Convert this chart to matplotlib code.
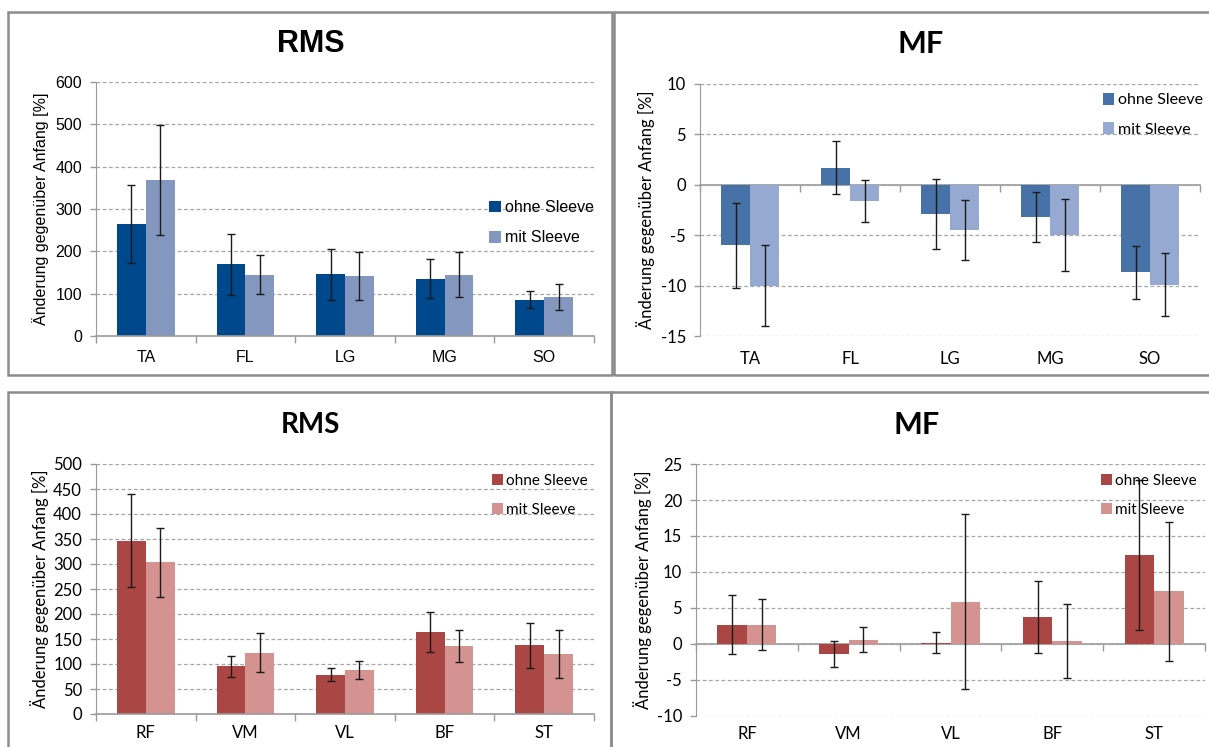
import matplotlib
matplotlib.use("Agg")
import matplotlib.pyplot as plt
from matplotlib.patches import Rectangle
import numpy as np

W, H = 1209, 747

# ---- data ----
legs = ["TA", "FL", "LG", "MG", "SO"]
thighs = ["RF", "VM", "VL", "BF", "ST"]

rms_leg_ohne = [264, 169, 146, 135, 86]
rms_leg_ohne_sd = [92, 73, 60, 46, 20]
rms_leg_mit = [369, 145, 141, 145, 92]
rms_leg_mit_sd = [130, 46, 57, 54, 31]

mf_leg_ohne = [-6.0, 1.7, -2.9, -3.2, -8.7]
mf_leg_ohne_sd = [4.2, 2.6, 3.5, 2.5, 2.6]
mf_leg_mit = [-10.0, -1.6, -4.5, -5.0, -9.9]
mf_leg_mit_sd = [4.0, 2.1, 3.0, 3.6, 3.1]

rms_thigh_ohne = [347, 96, 79, 165, 138]
rms_thigh_ohne_sd = [93, 21, 13, 40, 45]
rms_thigh_mit = [304, 123, 89, 136, 121]
rms_thigh_mit_sd = [69, 39, 18, 32, 48]

mf_thigh_ohne = [2.7, -1.4, 0.2, 3.7, 12.4]
mf_thigh_ohne_sd = [4.1, 1.8, 1.5, 5.0, 10.4]
mf_thigh_mit = [2.7, 0.6, 5.9, 0.4, 7.3]
mf_thigh_mit_sd = [3.6, 1.7, 12.1, 5.1, 9.6]

ylab = "Änderung gegenüber Anfang [%]"
grid_c = "#a6a6a6"
axis_c = "#9a9a9a"

fig = plt.figure(figsize=(W / 100, H / 100), dpi=100)


def px_axes(x0, x1, ytop, ybot):
    return fig.add_axes([x0 / W, 1 - ybot / H, (x1 - x0) / W, (ybot - ytop) / H])


def frame(x0, y0, x1, y1):
    r = Rectangle((x0 / W, 1 - y1 / H), (x1 - x0) / W, (y1 - y0) / H,
                  transform=fig.transFigure, fill=False, edgecolor="#8c8c8c", lw=1.8)
    fig.add_artist(r)


def panel(ax, cats, ohne, ohne_sd, mit, mit_sd, colors, ylim, yticks, title,
          font, fs, title_x, title_y, title_fs, leg_xy, leg_fs, ylab_x,
          zero_axis, xpad):
    x = np.arange(len(cats))
    w = 0.29
    ax.set_axisbelow(True)
    ax.bar(x - w / 2, ohne, w, color=colors[0], label="ohne Sleeve", zorder=2)
    ax.bar(x + w / 2, mit, w, color=colors[1], label="mit Sleeve", zorder=2)
    ax.errorbar(x - w / 2, ohne, yerr=ohne_sd, fmt="none", ecolor="#1a1a1a",
                elinewidth=1, capsize=3, capthick=1, zorder=3)
    ax.errorbar(x + w / 2, mit, yerr=mit_sd, fmt="none", ecolor="#1a1a1a",
                elinewidth=1, capsize=3, capthick=1, zorder=3)
    ax.set_xlim(-0.5, len(cats) - 0.5)
    ax.set_ylim(*ylim)
    ax.set_yticks(yticks)
    ax.set_yticklabels([str(t) for t in yticks], fontfamily=font, fontsize=fs)
    ax.yaxis.grid(True, color=grid_c, linestyle=(0, (3, 2)), linewidth=0.9)
    ax.tick_params(axis="y", length=4, color=axis_c, width=1, pad=6)
    ax.set_xticks(x)
    ax.set_xticklabels(cats, fontfamily=font, fontsize=fs)
    ax.set_xticks(np.arange(len(cats) + 1) - 0.5, minor=True)
    for s in ["top", "right"]:
        ax.spines[s].set_visible(False)
    ax.spines["left"].set_color(axis_c)
    if zero_axis:
        ax.spines["bottom"].set_visible(False)
        ax.tick_params(axis="x", which="both", length=0, pad=xpad)
        sec = ax.secondary_xaxis(0, transform=ax.transData)
        sec.set_xticks(np.arange(len(cats) + 1) - 0.5)
        sec.set_xticklabels([])
        sec.spines["bottom"].set_color(axis_c)
        sec.spines["bottom"].set_linewidth(1.2)
        sec.tick_params(length=5, color=axis_c, width=1)
    else:
        ax.spines["bottom"].set_color(axis_c)
        ax.spines["bottom"].set_linewidth(1.2)
        ax.tick_params(axis="x", which="major", length=0, pad=xpad)
        ax.tick_params(axis="x", which="minor", length=5, color=axis_c, width=1)
        ax.yaxis.get_gridlines()[0].set_visible(False)
    ax.set_ylabel(ylab, fontfamily=font, fontsize=fs)
    ax.yaxis.set_label_coords(ylab_x, 0.5)
    fig.text(title_x / W, 1 - title_y / H, title, fontfamily=font, fontsize=title_fs,
             fontweight="bold", ha="center", va="center")
    ax.legend(loc="upper left", bbox_to_anchor=leg_xy, frameon=False,
              prop={"family": font, "size": leg_fs}, handlelength=0.75,
              handleheight=0.75, handletextpad=0.2, labelspacing=0.95,
              borderpad=0, borderaxespad=0)


frame(8, 12, 612, 375)
frame(614, 12, 1215, 375)
frame(8, 392, 611, 752)
frame(611, 392, 1215, 752)

ax1 = px_axes(96, 594, 82, 336)
panel(ax1, legs, rms_leg_ohne, rms_leg_ohne_sd, rms_leg_mit, rms_leg_mit_sd,
      ["#00488c", "#8497bf"], (0, 600), list(range(0, 601, 100)), "RMS",
      "Liberation Sans", 11.5, 311, 44, 22, (0.79, 0.535), 11.5, -0.094, False, 10)

ax2 = px_axes(700, 1200, 84, 336)
panel(ax2, legs, mf_leg_ohne, mf_leg_ohne_sd, mf_leg_mit, mf_leg_mit_sd,
      ["#4672a8", "#95a9d1"], (-15, 10), list(range(-15, 11, 5)), "MF",
      "Lato", 12, 921, 44, 22, (0.805, 0.965), 11.5, -0.09, True, 11)

ax3 = px_axes(96, 594, 464, 714)
panel(ax3, thighs, rms_thigh_ohne, rms_thigh_ohne_sd, rms_thigh_mit, rms_thigh_mit_sd,
      ["#aa4643", "#d49391"], (0, 500), list(range(0, 501, 50)), "RMS",
      "Lato", 12, 310, 425, 20, (0.795, 0.96), 11, -0.094, False, 8)

ax4 = px_axes(696, 1205, 464, 716)
panel(ax4, thighs, mf_thigh_ohne, mf_thigh_ohne_sd, mf_thigh_mit, mf_thigh_mit_sd,
      ["#aa4643", "#d49391"], (-10, 25), list(range(-10, 26, 5)), "MF",
      "Lato", 12, 917, 425, 22, (0.795, 0.96), 11, -0.086, True, 7)

fig.savefig("out.png", dpi=100)
